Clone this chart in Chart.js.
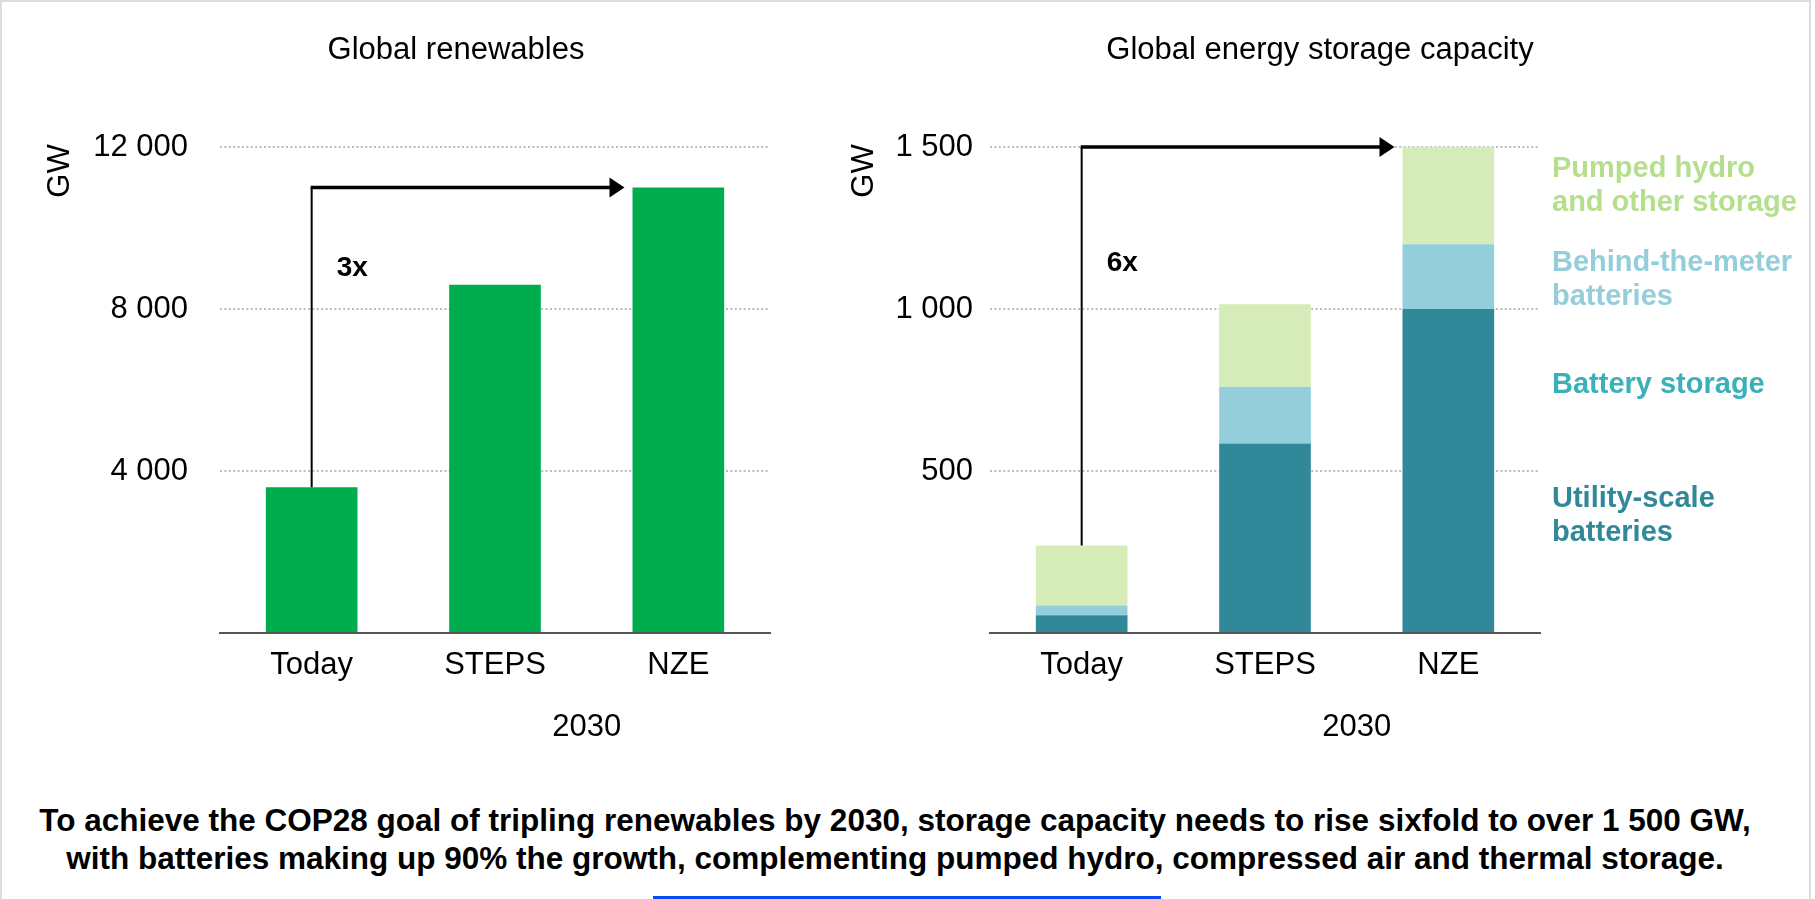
<!DOCTYPE html>
<html>
<head>
<meta charset="utf-8">
<script src="https://cdn.jsdelivr.net/npm/chart.js@4.4.1/dist/chart.umd.min.js"></script>
<style>
  body { margin: 0; background: #fff; font-family: "Liberation Sans", Arial, sans-serif; }
  #page { position: relative; width: 1815px; height: 899px; overflow: hidden; }
  #frame { position: absolute; left: 0; top: 0; width: 1807px; height: 905px; border: 2px solid #dcdcdc; }
  .box { position: absolute; top: 0; height: 780px; }
  #left { left: 0; width: 800px; }
  #right { left: 800px; width: 1015px; }
  #caption { position: absolute; left: 0; top: 802px; width: 1790px; text-align: center;
    font: bold 31.5px "Liberation Sans", Arial, sans-serif; line-height: 37.5px; color: #000; }
  #bluebar { position: absolute; left: 653px; top: 896px; width: 508px; height: 3px; background: #0a4cf0; }
</style>
</head>
<body>
<div id="page">
  <div id="frame"></div>
  <div class="box" id="left"><canvas id="chartLeft"></canvas></div>
  <div class="box" id="right"><canvas id="chartRight"></canvas></div>
  <div id="caption">To achieve the COP28 goal of tripling renewables by 2030, storage capacity needs to rise sixfold to over 1 500 GW,<br>with batteries making up 90% the growth, complementing pumped hydro, compressed air and thermal storage.</div>
  <div id="bluebar"></div>
</div>
<script>
// data
const categories = ['Today', 'STEPS', 'NZE'];
const renewables = [3600, 8600, 11000];
const utilityScale = [55, 585, 1000];
const behindMeter = [30, 175, 200];
const pumpedHydro = [185, 255, 300];
const renewTicks = [0, 4000, 8000, 12000];
const storageTicks = [0, 500, 1000, 1500];

const FONT = '"Liberation Sans", Arial, sans-serif';

function fmt(v) {
    if (v === 0) return '';
    return String(v).replace(/\B(?=(\d{3})+(?!\d))/g, ' ');
}

// titles, arrow, notes
const notesPlugin = {
    id: 'notes',
    afterDatasetsDraw(chart, args, opts) {
        const c = chart.ctx;
        const x = chart.scales.x;
        const y = chart.scales.y;
        c.save();
        c.fillStyle = '#000';
        c.font = '31px ' + FONT;
        c.textAlign = 'center';
        c.textBaseline = 'alphabetic';
        c.fillText(opts.title, opts.titleX, 59);

        // 2030 label under STEPS/NZE
        c.fillText('2030', (x.getPixelForValue(1) + x.getPixelForValue(2)) / 2, 736);

        // GW
        c.save();
        c.translate(opts.gwX, 171);
        c.rotate(-Math.PI / 2);
        c.textBaseline = 'middle';
        c.fillText('GW', 0, 0);
        c.restore();

        // arrow
        const x0 = x.getPixelForValue(0);
        const yStart = y.getPixelForValue(opts.fromVal);
        const yEnd = y.getPixelForValue(opts.toVal);
        const bar = chart.getDatasetMeta(0).data[2];
        const tip = bar.x - bar.width / 2 - 8;
        c.strokeStyle = '#000';
        c.lineWidth = 2;
        c.beginPath();
        c.moveTo(x0, yStart);
        c.lineTo(x0, yEnd);
        c.stroke();
        c.lineWidth = 3.5;
        c.beginPath();
        c.moveTo(x0 - 1, yEnd);
        c.lineTo(tip - 12, yEnd);
        c.stroke();
        c.beginPath();
        c.moveTo(tip, yEnd);
        c.lineTo(tip - 15, yEnd - 10);
        c.lineTo(tip - 15, yEnd + 10);
        c.closePath();
        c.fill();

        c.font = 'bold 28px ' + FONT;
        c.textAlign = 'left';
        c.fillText(opts.mult, x0 + 25, opts.multY);

        // side legend
        if (opts.legend) {
            c.font = 'bold 29px ' + FONT;
            opts.legend.forEach(item => {
                c.fillStyle = item.color;
                item.lines.forEach((t, i) => c.fillText(t, opts.legendX, item.y + i * 34));
            });
        }
        c.restore();
    }
};

function baseScales(ticksY, yWidth, tickPad) {
    return {
        x: {
            stacked: true,
            grid: { display: false, drawTicks: false },
            border: { display: true, color: '#555', width: 2 },
            ticks: { color: '#000', font: { family: FONT, size: 31 }, padding: 14 },
            afterFit: s => { s.height = 100; }
        },
        y: {
            stacked: true,
            min: 0,
            max: ticksY[ticksY.length - 1],
            afterBuildTicks: s => { s.ticks = ticksY.map(v => ({ value: v })); },
            grid: {
                drawTicks: false,
                color: ctx => ctx.tick && ctx.tick.value === 0 ? 'rgba(0,0,0,0)' : '#bdbdbd',
                lineWidth: 2
            },
            border: { display: false, dash: [2, 2.4] },
            ticks: { color: '#000', font: { family: FONT, size: 31 }, padding: tickPad, callback: v => fmt(v) },
            afterFit: s => { s.width = yWidth; }
        }
    };
}

new Chart(document.getElementById('chartLeft'), {
    type: 'bar',
    data: {
        labels: categories,
        datasets: [{
            label: 'Global renewables',
            data: renewables,
            backgroundColor: '#00ad4e',
            categoryPercentage: 1,
            barPercentage: 0.5
        }]
    },
    options: {
        responsive: true,
        maintainAspectRatio: false,
        animation: false,
        layout: { padding: { left: 0, right: 30, top: 147, bottom: 47 } },
        plugins: {
            legend: { display: false },
            tooltip: { enabled: false },
            notes: {
                title: 'Global renewables', titleX: 456, gwX: 60,
                fromVal: renewables[0], toVal: renewables[2],
                mult: '3x', multY: 276
            }
        },
        scales: baseScales(renewTicks, 220, 32)
    },
    plugins: [notesPlugin]
});

const storageTotals = categories.map((c, i) => utilityScale[i] + behindMeter[i] + pumpedHydro[i]);

new Chart(document.getElementById('chartRight'), {
    type: 'bar',
    data: {
        labels: categories,
        datasets: [
            { label: 'Utility-scale batteries', data: utilityScale, backgroundColor: '#318899', categoryPercentage: 1, barPercentage: 0.5 },
            { label: 'Behind-the-meter batteries', data: behindMeter, backgroundColor: '#94ceda', categoryPercentage: 1, barPercentage: 0.5 },
            { label: 'Pumped hydro and other storage', data: pumpedHydro, backgroundColor: '#d5ecb9', categoryPercentage: 1, barPercentage: 0.5 }
        ]
    },
    options: {
        responsive: true,
        maintainAspectRatio: false,
        animation: false,
        layout: { padding: { left: 0, right: 275, top: 147, bottom: 47 } },
        plugins: {
            legend: { display: false },
            tooltip: { enabled: false },
            notes: {
                title: 'Global energy storage capacity', titleX: 520, gwX: 64,
                fromVal: storageTotals[0], toVal: storageTotals[2],
                mult: '6x', multY: 271,
                legendX: 752,
                legend: [
                    { lines: ['Pumped hydro', 'and other storage'], color: '#b5df8d', y: 177 },
                    { lines: ['Behind-the-meter', 'batteries'], color: '#94ceda', y: 271 },
                    { lines: ['Battery storage'], color: '#3ab1b9', y: 393 },
                    { lines: ['Utility-scale', 'batteries'], color: '#318899', y: 507 }
                ]
            }
        },
        scales: baseScales(storageTicks, 190, 17)
    },
    plugins: [notesPlugin]
});
</script>
</body>
</html>
